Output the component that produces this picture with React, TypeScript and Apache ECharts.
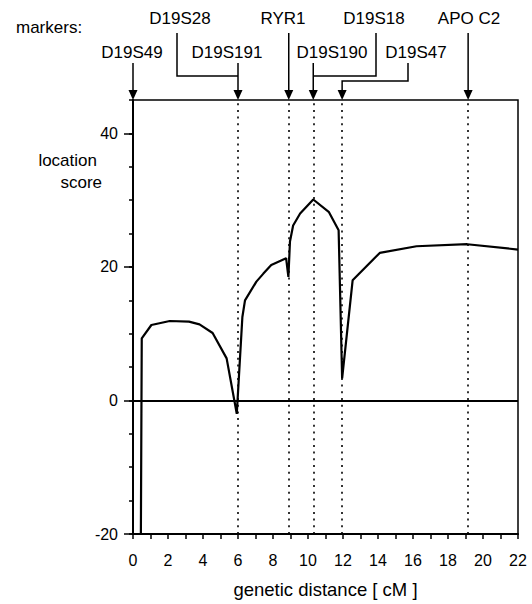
import React, { useEffect, useRef } from "react";
import * as echarts from "echarts";

// curve: genetic distance (cM) vs location score
const distance = [0.45, 0.5, 1.05, 2.1, 3.2, 3.8, 4.55, 5.35, 5.93, 6.25, 6.4, 7.05, 7.45, 7.9, 8.75, 8.88, 8.97, 9.15, 9.55, 10.3, 11.2, 11.75, 11.95, 12.55, 14.1, 16.2, 19.1, 22];
const score = [-20, 9.3, 11.3, 11.9, 11.8, 11.4, 10.1, 6.3, -2.0, 12.5, 15.0, 17.8, 19.0, 20.3, 21.3, 18.5, 23.8, 26.2, 28.0, 30.1, 28.2, 25.5, 3.3, 18.0, 22.1, 23.1, 23.4, 22.6];

// markers and their map positions (cM)
const markerNames = ["D19S49", "D19S28", "D19S191", "RYR1", "D19S190", "D19S18", "D19S47", "APO C2"];
const markerPos = [0, 6, 6, 8.9, 10.3, 10.3, 11.95, 19.15];

const yMajorTicks = [-20, 0, 20, 40];

const FONT = '"Liberation Sans", Arial, sans-serif';

export default function App() {
  const ref = useRef<HTMLDivElement>(null);
  useEffect(() => {
    if (!ref.current) return;
    const chart = echarts.init(ref.current, null, { renderer: "svg" });
    const dotted = Array.from(new Set(markerPos.filter((p) => p > 0)));
    chart.setOption({
      animation: false,
      grid: { left: 133, right: 14, top: 100, bottom: 70, show: true, borderColor: "#000", borderWidth: 1.5, backgroundColor: "transparent" },
      xAxis: [
        {
          type: "value", min: 0, max: 22, interval: 1,
          axisLine: { show: true, onZero: false, lineStyle: { color: "#000", width: 2 } },
          axisTick: { show: true, length: 5, lineStyle: { color: "#000", width: 1.5 } },
          axisLabel: { formatter: (v: number) => (v % 2 === 0 ? String(v) : ""), color: "#000", fontSize: 16, fontFamily: FONT, margin: 18 },
          splitLine: { show: false },
          name: "genetic distance [ cM ]", nameLocation: "middle", nameGap: 46,
          nameTextStyle: { color: "#000", fontSize: 18.5, fontFamily: FONT },
        },
      ],
      yAxis: [
        {
          type: "value", min: -20, max: 45, interval: 5,
          axisLine: { show: true, onZero: false, lineStyle: { color: "#000", width: 2 } },
          axisTick: { show: true, length: 4, lineStyle: { color: "#000", width: 1.5 } },
          axisLabel: { show: false },
          splitLine: { show: false },
        },
        {
          type: "value", min: -20, max: 45, interval: 20, position: "left",
          axisLine: { show: false },
          axisTick: { show: true, length: 9, customValues: yMajorTicks, lineStyle: { color: "#000", width: 1.5 } },
          axisLabel: { show: true, customValues: yMajorTicks, color: "#000", fontSize: 16, fontFamily: FONT, margin: 15 },
          splitLine: { show: false },
        },
      ],
      series: [
        {
          type: "line",
          data: distance.map((d, i) => [d, score[i]]),
          symbol: "none",
          clip: true,
          lineStyle: { color: "#000", width: 2.2 },
          markLine: {
            silent: true,
            symbol: ["none", "none"],
            label: { show: false },
            data: [
              { yAxis: 0, lineStyle: { color: "#000", type: "solid", width: 2 } },
              ...dotted.map((p) => ({ xAxis: p, lineStyle: { color: "#000", type: [2, 4.7], width: 1.6 } })),
            ],
          },
        },
      ],
    });

    const px = (v: number) => chart.convertToPixel({ xAxisIndex: 0 }, v) as number;
    const topY = chart.convertToPixel({ yAxisIndex: 0 }, 45) as number;

    // label layout (pixels)
    const labelX = [132, 180, 227, 283, 332, 374, 416, 469];
    const labelRow = [1, 0, 1, 0, 1, 0, 1, 0];
    const rowY = [18.5, 52];
    const stemStart = [33, 63];
    const stemX: (number | null)[] = [null, 177, null, null, null, 376, 408, null];
    const elbowY: (number | null)[] = [null, 76, null, null, null, 76, 81, null];

    const elements: any[] = [];
    elements.push({
      type: "text", x: 16, y: 27,
      style: { text: "markers:", fill: "#000", fontSize: 17, fontFamily: FONT, textAlign: "left", align: "left", textVerticalAlign: "middle", verticalAlign: "middle" },
    });
    elements.push({
      type: "text", x: 97, y: 160,
      style: { text: "location", fill: "#000", fontSize: 17, fontFamily: FONT, textAlign: "right", align: "right", textVerticalAlign: "middle", verticalAlign: "middle" },
    });
    elements.push({
      type: "text", x: 102, y: 182,
      style: { text: "score", fill: "#000", fontSize: 17, fontFamily: FONT, textAlign: "right", align: "right", textVerticalAlign: "middle", verticalAlign: "middle" },
    });

    markerNames.forEach((name, i) => {
      const mx = px(markerPos[i]);
      const row = labelRow[i];
      elements.push({
        type: "text", x: labelX[i], y: rowY[row],
        style: { text: name, fill: "#000", fontSize: 17, fontFamily: FONT, textAlign: "center", align: "center", textVerticalAlign: "middle", verticalAlign: "middle" },
      });
      const sx = stemX[i] ?? mx;
      const pts: number[][] = [[sx, stemStart[row]]];
      if (elbowY[i] != null) {
        pts.push([sx, elbowY[i] as number]);
        pts.push([mx, elbowY[i] as number]);
        if (i === 6) pts.push([mx, topY - 9]);
      } else {
        pts.push([mx, topY - 9]);
      }
      elements.push({ type: "polyline", shape: { points: pts }, style: { stroke: "#000", lineWidth: 1.5, fill: null } });
      if (elbowY[i] == null || i === 6) {
        elements.push({
          type: "polygon",
          shape: { points: [[mx, topY], [mx - 4.5, topY - 10], [mx + 4.5, topY - 10]] },
          style: { fill: "#000" },
        });
      }
    });

    chart.setOption({ graphic: { elements } });
    return () => chart.dispose();
  }, []);
  return <div ref={ref} style={{ position: "absolute", left: 0, top: 0, width: 532, height: 604 }} />;
}
